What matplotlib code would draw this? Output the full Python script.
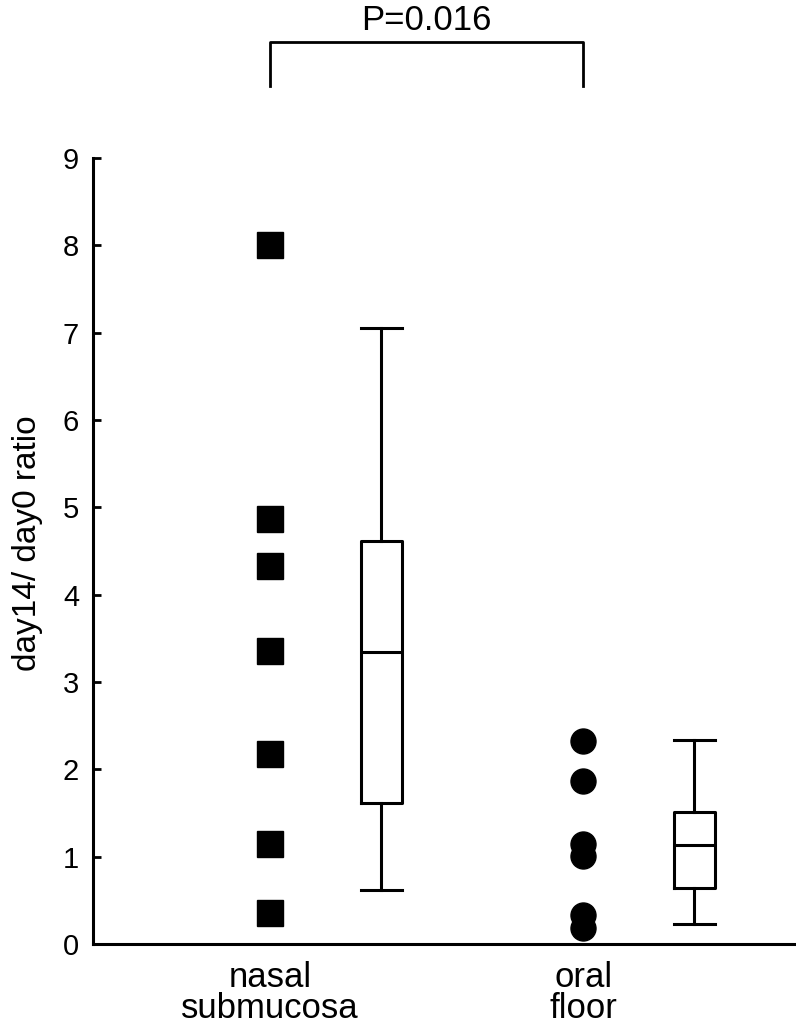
import matplotlib
matplotlib.use("Agg")
import matplotlib.pyplot as plt

plt.rcParams['font.family'] = ['Liberation Sans', 'DejaVu Sans']

categories = ["nasal\nsubmucosa", "oral\nfloor"]
nasal_points = [8.0, 4.87, 4.33, 3.36, 2.17, 1.15, 0.35]
oral_points = [2.33, 1.87, 1.15, 1.01, 0.33, 0.18]
# box statistics: whislo, q1, med, q3, whishi
nasal_box = [0.62, 1.62, 3.34, 4.62, 7.05]
oral_box = [0.23, 0.64, 1.13, 1.51, 2.34]
p_text = "P=0.016"
yticks = list(range(0, 10))

fig = plt.figure(figsize=(7.96, 10.32), dpi=100)
ax = fig.add_axes([93/796, 1-944/1032, 1-93/796, (944-158)/1032])

pos = [1, 2]
box_off = 0.355
ax.plot([pos[0]]*len(nasal_points), nasal_points, linestyle='none', marker='s',
        markersize=18.5, color='black', clip_on=False)
ax.plot([pos[1]]*len(oral_points), oral_points, linestyle='none', marker='o',
        markersize=18, color='black', clip_on=False)

stats = []
for b in (nasal_box, oral_box):
    stats.append(dict(whislo=b[0], q1=b[1], med=b[2], q3=b[3], whishi=b[4], fliers=[]))
lw = 2.2
ax.bxp(stats, positions=[p + box_off for p in pos], widths=0.13, capwidths=0.13,
       showfliers=False,
       boxprops=dict(color='black', linewidth=lw),
       whiskerprops=dict(color='black', linewidth=lw),
       capprops=dict(color='black', linewidth=lw),
       medianprops=dict(color='black', linewidth=lw))

ax.set_xlim(0.4345, 2.68)
ax.set_ylim(0, 9)
ax.set_yticks(yticks)
ax.set_yticklabels([str(t) for t in yticks], fontsize=21)
ax.set_xticks(pos)
ax.set_xticklabels(categories, fontsize=25, linespacing=0.95)
ax.tick_params(axis='x', length=0, pad=12)
ax.tick_params(axis='y', length=6, width=2, direction='in', pad=10)
for s in ('top', 'right'):
    ax.spines[s].set_visible(False)
for s in ('left', 'bottom'):
    ax.spines[s].set_linewidth(2.2)

ax.set_ylabel("day14/ day0 ratio", fontsize=24, labelpad=14, y=(944-543.5)/786)

# significance bracket
yb_top = 10.33
yb_bot = 9.83
ax.plot([pos[0], pos[0], pos[1], pos[1]], [yb_bot, yb_top, yb_top, yb_bot],
        color='black', linewidth=2, clip_on=False)
ax.text((pos[0] + pos[1]) / 2, 10.57, p_text, ha='center', va='center', fontsize=25)

fig.savefig("out.png", dpi=100)
